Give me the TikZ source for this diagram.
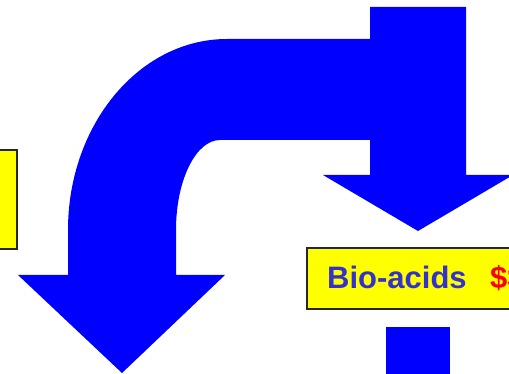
\documentclass[tikz,border=0pt]{standalone}
\usepackage{fontspec}
\setmainfont{Liberation Sans}
\definecolor{arrowblue}{HTML}{0000FF}
\definecolor{boxyellow}{HTML}{FFFF00}
\definecolor{textblue}{HTML}{3333CC}
\definecolor{textred}{HTML}{FF0000}
\tikzset{
  bigarrow/.style={fill=arrowblue, draw=none},
  ybox/.style={fill=boxyellow, draw=black!85, line width=1.6pt},
  lbl/.style={inner sep=0pt, font=\fontsize{31}{31}\selectfont\bfseries},
}
\begin{document}
\begin{tikzpicture}[x=1pt,y=-1pt]
\useasboundingbox (0,0) rectangle (509,374);
% left yellow box (cut by the picture edge)
\node[ybox, minimum width=30pt, minimum height=99pt, inner sep=0pt, anchor=north east] (leftbox) at (18,149) {};
% right yellow box
\node[ybox, minimum width=220pt, minimum height=61pt, inner sep=0pt, anchor=north west] (rightbox) at (306,247) {};
\node[lbl, text=textblue, anchor=base west] (bio) at (327,288) {Bio-acids};
\node[lbl, text=textred, anchor=base west] (cost) at (490,288) {\$\$};
% curved arrow
\path[bigarrow] (372,39) -- (227,39)
  .. controls (139,39) and (68,125) .. (68,230)
  -- (68,275) -- (18,275) -- (122,373) -- (225,275) -- (176,275) -- (176,230)
  .. controls (176,180) and (196,140) .. (220,140)
  -- (372,140) -- cycle;
% straight down arrow on the right
\path[bigarrow] (370,7) -- (466,7) -- (466,175) -- (513,175) -- (418,231)
  -- (323,175) -- (370,175) -- cycle;
% small blue square at the bottom
\path[bigarrow] (386,327) rectangle (450,380);
\end{tikzpicture}
\end{document}
